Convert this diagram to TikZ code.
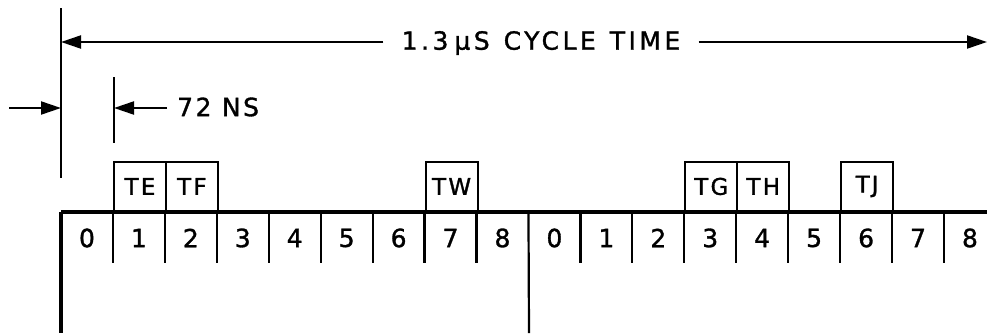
\documentclass[tikz,border=0pt]{standalone}
\usepackage{fontspec}
\setmainfont{DejaVu Sans}
\newfontfamily\lbl[LetterSpace=10,FakeBold=1.3]{DejaVu Sans}
\newfontfamily\ttl[LetterSpace=14,FakeBold=1.3]{DejaVu Sans}
\usetikzlibrary{arrows.meta}
\begin{document}
\begin{tikzpicture}[x=1pt,y=-1pt,
  thinline/.style={line width=2.2pt},
  heavy/.style={line width=3.5pt},
  arr/.style={line width=2.1pt,-{Triangle[length=20pt,width=13pt]}},
  num/.style={font=\fontsize{25}{25}\selectfont\lbl, inner sep=0pt},
  tag/.style={draw, line width=2.1pt, minimum width=51.94pt, minimum height=49pt,
              inner sep=0pt, font=\fontsize{23}{23}\selectfont\lbl, anchor=south west},
  ttlstyle/.style={font=\fontsize{25}{25}\selectfont\ttl, inner ysep=0pt}]
\useasboundingbox (0,0) rectangle (987,335);
% tick coordinates
\foreach \k in {0,...,18}{
  \coordinate (t\k) at ({61+51.94*\k},212);
  \coordinate (b\k) at ({61+51.94*\k},263);
}
\coordinate (rend) at (987,212);
\coordinate (lbot) at (61,333);
\coordinate (mbot) at (529,333);
\coordinate (vtop) at (61,8);
\coordinate (vbot) at (61,178);
\coordinate (ltail) at (9,108);
\coordinate (lhead) at (61,108);
\coordinate (ctop) at (61,42);
\coordinate (cend) at (987,42);
\coordinate (mtop) at (114,77);
\coordinate (mbot2) at (114,143);
\coordinate (mhead) at (114,108);
% boxes
\node[tag] (TE) at (t1) {TE};
\node[tag] (TF) at (t2) {TF};
\node[tag] (TW) at (t7) {TW};
\node[tag] (TG) at (t12) {TG};
\node[tag] (TH) at (t13) {TH};
\node[tag] (TJ) at (t15) {T\kern2pt J};
% main line and verticals
\draw[heavy] (t0) -- (rend);
\draw[heavy] (t0) -- (lbot);
\draw[thinline] (t9) -- (mbot);
\foreach \k in {1,...,8,10,11,...,17}{
  \draw[thinline] (t\k) -- (b\k);
}
% digits
\foreach \k/\d in {0/0,1/1,2/2,3/3,4/4,5/5,6/6,7/7,8/8,9/0,10/1,11/2,12/3,13/4,14/5,15/6,16/7,17/8}{
  \node[num] (d\k) at ({61+51.94*(\k+0.5)},238) {\d};
}
% top cycle-time dimension
\draw[thinline] (vtop) -- (vbot);
\node[ttlstyle, inner xsep=18pt] (title) at (541,43) {1.3\hspace{6pt}μS\hspace{14pt}CYCLE\hspace{14pt}TIME};
\draw[arr] (title.west |- ctop) -- (ctop);
\draw[arr] (title.east |- cend) -- (cend);
% 72 NS
\draw[arr] (ltail) -- (lhead);
\draw[thinline] (mtop) -- (mbot2);
\node[num, anchor=west, inner xsep=10pt] (ns) at (167,107) {72 NS};
\draw[arr] (ns.west |- mhead) -- (mhead);
\end{tikzpicture}
\end{document}
